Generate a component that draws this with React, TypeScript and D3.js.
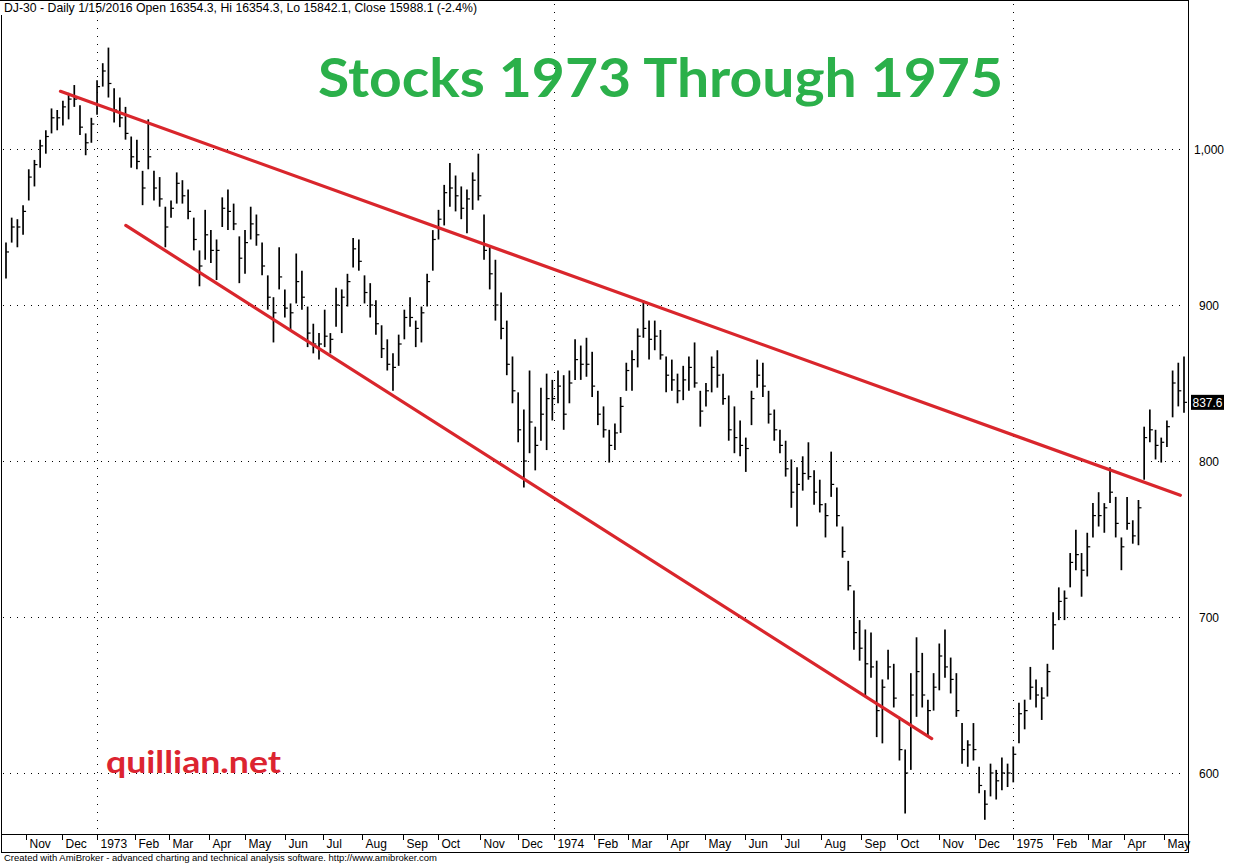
import React from 'react';
import * as d3 from 'd3';

// ---- data ----
const startDate = '1972-10-16';
const endDate = '1975-05-15';
const holidays = ['1972-11-07','1972-11-23','1972-12-25','1972-12-28','1973-01-01','1973-01-25','1973-02-19','1973-04-20','1973-05-28','1973-07-04','1973-09-03','1973-11-22','1973-12-25','1974-01-01','1974-02-18','1974-04-12','1974-05-27','1974-07-04','1974-09-02','1974-11-28','1974-12-25','1975-01-01','1975-02-17','1975-03-28'];
const monthNames = ['Jan','Feb','Mar','Apr','May','Jun','Jul','Aug','Sep','Oct','Nov','Dec'];

const highs = [940,956,955,964,987,993,1006,1012,1026,1025,
1031,1036,1041,1028,1010,1020,1044,1055,1065,1039,
1033,1027,1008,1006,986,1019,986,982,963,967,
985,980,974,956,935,961,948,942,969,974,
965,944,948,963,958,940,919,905,937,910,
901,933,922,899,888,882,897,882,911,910,
920,943,942,919,914,903,887,878,869,881,
897,905,890,899,920,948,961,977,991,983,
976,974,985,997,958,937,929,908,890,867,
844,833,858,822,847,856,852,858,855,858,
878,874,879,870,845,835,820,824,841,863,
871,885,903,890,890,884,867,865,856,861,
867,876,845,850,867,871,856,842,835,826,
815,845,865,863,845,833,820,813,801,796,
803,812,794,788,773,806,783,758,736,717,
698,692,690,672,660,679,670,636,615,664,
687,677,647,664,683,692,674,664,632,621,
632,604,589,606,602,610,606,617,645,647,
668,660,655,670,703,719,717,741,756,741,
754,773,780,773,796,777,751,777,762,775,
822,833,820,815,826,858,863,867];

const lows = [917,940,937,945,967,976,988,997,1010,1012,
1015,1019,1027,1009,996,1004,1022,1040,1033,1017,
1014,1006,988,987,964,987,967,963,937,956,
965,965,955,935,912,929,927,916,950,948,
948,914,920,942,938,919,897,876,910,892,
884,901,897,873,869,865,873,869,886,882,
899,924,922,901,892,881,866,858,845,861,
878,886,873,876,899,922,942,951,963,960,
955,946,961,967,929,910,890,878,855,837,
812,783,805,794,813,807,826,837,820,837,
852,852,854,841,823,815,799,807,818,845,
845,860,879,865,871,865,844,845,837,839,
845,847,822,835,844,847,836,813,805,803,
793,823,847,841,824,813,805,790,770,758,
781,788,772,767,751,777,758,738,717,679,
672,649,661,623,619,660,642,608,574,602,
636,642,623,640,653,661,651,636,606,604,
608,587,570,585,583,589,591,594,619,628,
647,642,634,649,679,698,698,719,730,713,
726,751,758,754,773,751,730,756,747,746,
788,812,801,799,809,828,835,831];

const closes = [934,950,950,960,982,990,1002,1008,1020,1020,
1027,1032,1032,1014,1004,1016,1040,1050,1042,1025,
1020,1010,995,992,975,995,975,968,950,962,
978,970,960,942,925,945,935,935,962,960,
952,930,940,952,945,925,905,895,918,898,
895,915,905,882,875,875,880,878,900,905,
915,936,928,908,900,888,872,862,860,875,
892,892,885,895,915,942,955,972,975,970,
962,968,980,970,935,920,900,885,862,845,
820,800,825,810,830,840,840,848,830,850,
865,862,862,848,830,820,810,818,835,858,
865,880,885,878,880,868,855,852,845,852,
860,850,832,845,860,855,840,820,815,810,
808,840,855,848,830,820,810,795,780,785,
792,790,780,772,765,785,765,742,720,690,
680,670,668,640,655,668,648,615,600,650,
665,650,640,655,675,668,660,640,615,618,
615,592,580,600,595,600,600,612,638,640,
655,650,648,665,695,710,712,735,740,730,
745,765,765,770,780,760,745,760,752,770,
815,820,810,812,822,850,845,837.6];

const yTicks = [600, 700, 800, 900, 1000];
const trendLines = [
  { from: '1972-11-29', v0: 1037, to: '1975-05-13', v1: 778 },
  { from: '1973-01-23', v0: 951, to: '1974-10-25', v1: 622 },
];
const headerText = 'DJ-30 - Daily 1/15/2016 Open 16354.3, Hi 16354.3, Lo 15842.1, Close 15988.1 (-2.4%)';
const footerText = 'Created with AmiBroker - advanced charting and technical analysis software. http://www.amibroker.com';
const titleText = 'Stocks 1973 Through 1975';
const watermarkText = 'quillian.net';

// ---- layout ----
const W = 1249, H = 864;
const plotLeft = 6, plotRight = 1184;
const frameRight = 1188.5, axisTop = 834.5, axisBottom = 852.5;

function tradingDays(): string[] {
  const hol = new Set(holidays);
  const fmt = d3.utcFormat('%Y-%m-%d');
  const days = d3.utcDay.range(new Date(startDate + 'T00:00:00Z'), d3.utcDay.offset(new Date(endDate + 'T00:00:00Z'), 1));
  return days.filter(d => d.getUTCDay() !== 0 && d.getUTCDay() !== 6).map(fmt).filter(s => !hol.has(s));
}

export default function App() {
  const days = tradingDays();
  const D = days.length;
  const N = highs.length;
  const xDay = d3.scaleLinear().domain([0, D - 1]).range([plotLeft, plotRight]);
  const xBar = d3.scaleLinear().domain([0, N - 1]).range([plotLeft, plotRight]);
  const y = d3.scaleLinear().domain([600, 1000]).range([773, 149]);
  const dayIndex = (s: string) => days.indexOf(s);

  // first trading day of each month
  const monthTicks: { idx: number; label: string; jan: boolean }[] = [];
  let prevKey = '';
  days.forEach((s, i) => {
    const key = s.slice(0, 7);
    if (key !== prevKey) {
      if (i > 0) {
        const m = +s.slice(5, 7) - 1;
        monthTicks.push({ idx: i, label: m === 0 ? s.slice(0, 4) : monthNames[m], jan: m === 0 });
      }
      prevKey = key;
    }
  });

  const axisFont = "'Liberation Sans', Arial, sans-serif";
  const last = closes[closes.length - 1];

  return (
    <div style={{ position: 'absolute', left: 0, top: 0, width: W, height: H, background: '#fff' }}>
      <svg width={W} height={H} style={{ display: 'block' }}>
        <rect x={0} y={0} width={W} height={H} fill="#fff" />
        {/* horizontal dotted gridlines */}
        {yTicks.map(v => (
          <line key={'g' + v} x1={plotLeft - 3} x2={plotRight} y1={Math.round(y(v)) + 0.5} y2={Math.round(y(v)) + 0.5}
            stroke="#000" strokeWidth={1} strokeDasharray="1 6" shapeRendering="crispEdges" />
        ))}
        {/* year separators */}
        {monthTicks.filter(t => t.jan).map(t => (
          <line key={'yl' + t.label} x1={Math.round(xDay(t.idx) - 2) + 0.5} x2={Math.round(xDay(t.idx) - 2) + 0.5}
            y1={4} y2={axisTop} stroke="#000" strokeWidth={1} strokeDasharray="1 7" shapeRendering="crispEdges" />
        ))}
        {/* price bars */}
        <g stroke="#000">
          {highs.map((h, i) => {
            const x = xBar(i);
            const yc = y(closes[i]);
            return (
              <g key={'b' + i}>
                <line x1={x} x2={x} y1={y(h)} y2={y(lows[i])} strokeWidth={1.7} />
                <line x1={x} x2={x + 3} y1={yc} y2={yc} strokeWidth={1.2} />
              </g>
            );
          })}
        </g>
        {/* trend lines */}
        {trendLines.map((t, i) => (
          <line key={'t' + i} x1={xDay(dayIndex(t.from))} y1={y(t.v0)} x2={xDay(dayIndex(t.to))} y2={y(t.v1)}
            stroke="#d9262c" strokeWidth={3.2} strokeLinecap="round" />
        ))}
        {/* frame */}
        <g stroke="#000" strokeWidth={1} fill="none" shapeRendering="crispEdges">
          <line x1={0} x2={frameRight} y1={0.5} y2={0.5} />
          <line x1={frameRight} x2={frameRight} y1={0} y2={axisBottom} />
          <line x1={1.5} x2={1.5} y1={15} y2={axisBottom} />
          <line x1={1} x2={frameRight} y1={axisTop} y2={axisTop} />
          <line x1={1} x2={frameRight} y1={axisBottom} y2={axisBottom} />
        </g>
        {/* month ticks and labels */}
        {monthTicks.map(t => {
          const x = Math.round(xDay(t.idx) - 2) + 0.5;
          return (
            <g key={'m' + t.idx}>
              <line x1={x} x2={x} y1={axisTop} y2={axisTop + 5} stroke="#000" strokeWidth={1} shapeRendering="crispEdges" />
              <text x={x + 3} y={848} fontFamily={axisFont} fontSize={12} fill="#000">{t.label}</text>
            </g>
          );
        })}
        {/* right axis labels */}
        {yTicks.map(v => (
          <text key={'yt' + v} x={1209} y={y(v) + 4.5} textAnchor="middle" fontFamily={axisFont} fontSize={12} fill="#000">
            {d3.format(',')(v)}
          </text>
        ))}
        {/* last value box */}
        <rect x={1191} y={y(last) - 7.5} width={33} height={15} fill="#000" />
        <text x={1207.5} y={y(last) + 4.5} textAnchor="middle" fontFamily={axisFont} fontSize={12} fill="#fff">{last.toFixed(1)}</text>
        {/* header and footer */}
        <text x={4} y={12} fontFamily={axisFont} fontSize={12} fill="#000" textLength={473} lengthAdjust="spacingAndGlyphs">{headerText}</text>
        <text x={4} y={861} fontFamily={axisFont} fontSize={9} fill="#000" textLength={433} lengthAdjust="spacingAndGlyphs">{footerText}</text>
        {/* title */}
        <text x={318} y={97} fontFamily="Lato, 'Open Sans', sans-serif" fontWeight={700} fontSize={54} fill="#2bb04a"
          textLength={685} lengthAdjust="spacingAndGlyphs">{titleText}</text>
        <text x={106} y={773} fontFamily="Lato, 'Open Sans', sans-serif" fontWeight={700} fontSize={31} fill="#dc2430"
          textLength={175} lengthAdjust="spacingAndGlyphs">{watermarkText}</text>
      </svg>
    </div>
  );
}
